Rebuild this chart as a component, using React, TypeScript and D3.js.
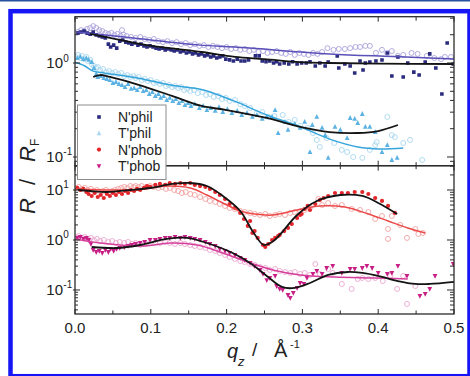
import React from 'react';
import * as d3 from 'd3';

type Pt = [number, number];

// ---------- data: q (1/Å) and R/RF ----------
const qTicks = [0, 0.1, 0.2, 0.3, 0.4, 0.5];
const qTickLabels = ['0.0', '0.1', '0.2', '0.3', '0.4', '0.5'];
const legendLabels = ["N'phil", "T'phil", "N'phob", "T'phob"];

// N'phil (filled squares) and fit
const nPhilData: Pt[] = [
  [0.004, 2.09], [0.008, 2.14], [0.012, 2.19], [0.016, 2.08], [0.020, 2.03], [0.024, 2.14], [0.028, 1.99],
  [0.032, 1.94], [0.036, 1.89], [0.040, 1.85], [0.044, 1.59], [0.047, 1.48], [0.051, 1.55], [0.055, 1.44],
  [0.059, 1.71], [0.063, 1.76], [0.067, 1.67], [0.071, 1.63], [0.075, 1.59], [0.079, 1.63], [0.083, 1.55],
  [0.087, 1.59], [0.091, 1.52], [0.095, 1.48], [0.099, 1.52], [0.103, 1.48], [0.107, 1.44], [0.111, 1.41],
  [0.115, 1.44], [0.119, 1.38], [0.123, 1.41], [0.127, 1.38], [0.131, 1.34], [0.135, 1.38], [0.139, 1.31],
  [0.143, 1.34], [0.147, 1.28], [0.151, 1.31], [0.155, 1.25], [0.159, 1.28], [0.163, 1.22], [0.167, 1.25],
  [0.171, 1.19], [0.175, 1.22], [0.179, 1.16], [0.183, 1.19], [0.187, 1.13], [0.191, 1.16], [0.195, 1.19],
  [0.199, 1.10], [0.204, 1.08], [0.209, 1.05], [0.214, 1.10], [0.219, 1.05], [0.224, 1.05], [0.229, 1.08],
  [0.238, 1.19], [0.243, 1.19], [0.247, 1.05], [0.252, 1.03], [0.257, 1.05], [0.262, 1.0], [0.266, 1.03],
  [0.270, 0.976], [0.276, 1.0], [0.282, 0.976], [0.287, 1.03], [0.293, 0.976], [0.299, 1.0], [0.305, 1.0],
  [0.310, 1.03], [0.317, 0.929], [0.323, 1.0], [0.330, 0.929], [0.334, 1.025], [0.346, 1.19], [0.348, 0.885],
  [0.356, 0.976], [0.363, 0.929], [0.369, 0.783], [0.376, 1.05], [0.380, 0.843], [0.383, 1.0], [0.389, 1.025],
  [0.397, 1.05], [0.405, 1.076], [0.412, 1.28], [0.418, 0.727], [0.426, 1.16], [0.433, 0.71], [0.439, 1.0],
  [0.447, 0.80], [0.454, 0.745], [0.462, 1.025], [0.468, 1.25], [0.476, 0.885], [0.484, 0.468], [0.491, 1.63],
  [0.499, 0.976],
];
const nPhilFit: Pt[] = [
  [0.02, 2.04], [0.046, 1.85], [0.085, 1.6], [0.125, 1.44], [0.167, 1.31], [0.211, 1.16], [0.25, 1.10],
  [0.297, 1.02], [0.336, 1.0], [0.4, 0.985], [0.5, 0.976],
];

// N'phil reference (open circles) and fit
const nPhilOpen: Pt[] = [
  [0.004, 2.14], [0.008, 2.24], [0.012, 2.19], [0.016, 2.30], [0.020, 2.36], [0.024, 2.47], [0.028, 2.36],
  [0.032, 2.24], [0.036, 2.19], [0.040, 2.09], [0.044, 2.04], [0.048, 2.09], [0.052, 1.99], [0.056, 2.04],
  [0.060, 1.94], [0.062, 2.24], [0.064, 2.0], [0.068, 1.94], [0.074, 1.89], [0.080, 1.85], [0.086, 1.89],
  [0.092, 1.80], [0.098, 1.76], [0.104, 1.80], [0.110, 1.71], [0.116, 1.67], [0.122, 1.71], [0.128, 1.63],
  [0.134, 1.67], [0.140, 1.59], [0.146, 1.63], [0.152, 1.55], [0.158, 1.59], [0.164, 1.52], [0.170, 1.55],
  [0.176, 1.48], [0.182, 1.52], [0.188, 1.48], [0.194, 1.44], [0.200, 1.48], [0.206, 1.41], [0.212, 1.44],
  [0.218, 1.38], [0.224, 1.41], [0.230, 1.34], [0.236, 1.38], [0.242, 1.31], [0.248, 1.34], [0.254, 1.28],
  [0.260, 1.31], [0.266, 1.34], [0.272, 1.28], [0.278, 1.25], [0.284, 1.31], [0.290, 1.22], [0.296, 1.28],
  [0.302, 1.25], [0.308, 1.22], [0.314, 1.28], [0.320, 1.25], [0.326, 1.31], [0.333, 1.44], [0.341, 1.38],
  [0.348, 1.41], [0.356, 1.41], [0.363, 1.44], [0.370, 1.48], [0.376, 1.48], [0.383, 1.52], [0.389, 1.52],
  [0.397, 1.28], [0.405, 1.38], [0.412, 1.28], [0.418, 1.34], [0.426, 1.19], [0.433, 1.22], [0.444, 1.28],
  [0.452, 1.25], [0.464, 1.19], [0.474, 1.13], [0.483, 1.10], [0.488, 1.16], [0.496, 1.16],
];
const nPhilOpenFit: Pt[] = [
  [0.003, 2.14], [0.08, 1.83], [0.165, 1.55], [0.211, 1.48], [0.336, 1.25], [0.42, 1.17], [0.5, 1.10],
];

// T'phil (filled triangles) and fit
const tPhilData: Pt[] = [
  [0.003, 1.13], [0.007, 1.16], [0.011, 1.10], [0.015, 1.13], [0.018, 1.08], [0.022, 1.02], [0.025, 0.885],
  [0.028, 0.764], [0.030, 0.71], [0.034, 0.727], [0.038, 0.692], [0.042, 0.676], [0.046, 0.659], [0.050, 0.613],
  [0.054, 0.628], [0.058, 0.598], [0.062, 0.583], [0.066, 0.555], [0.070, 0.598], [0.074, 0.530], [0.078, 0.542],
  [0.082, 0.516], [0.086, 0.555], [0.090, 0.503], [0.094, 0.516], [0.098, 0.468], [0.102, 0.491], [0.106, 0.446],
  [0.110, 0.468], [0.113, 0.425], [0.117, 0.446], [0.121, 0.404], [0.125, 0.425], [0.129, 0.394], [0.133, 0.414],
  [0.137, 0.375], [0.141, 0.394], [0.145, 0.357], [0.149, 0.375], [0.153, 0.349], [0.158, 0.366], [0.164, 0.332],
  [0.169, 0.349], [0.174, 0.316], [0.179, 0.332], [0.185, 0.309], [0.190, 0.340], [0.195, 0.301], [0.201, 0.324],
  [0.207, 0.294], [0.214, 0.309], [0.220, 0.280], [0.227, 0.294], [0.234, 0.267], [0.240, 0.280], [0.247, 0.254],
  [0.253, 0.267], [0.260, 0.267], [0.264, 0.316], [0.268, 0.180], [0.277, 0.236], [0.281, 0.194], [0.290, 0.225],
  [0.297, 0.204], [0.303, 0.236], [0.310, 0.113], [0.313, 0.219], [0.319, 0.267], [0.326, 0.204], [0.330, 0.171],
  [0.334, 0.098], [0.343, 0.209], [0.350, 0.194], [0.359, 0.159], [0.363, 0.260], [0.369, 0.254], [0.373, 0.230],
  [0.379, 0.287], [0.383, 0.209], [0.389, 0.209], [0.396, 0.184], [0.405, 0.113], [0.412, 0.134], [0.418, 0.093],
  [0.425, 0.098],
];
const tPhilFit: Pt[] = [
  [0.024, 0.71], [0.033, 0.745], [0.046, 0.71], [0.085, 0.583], [0.128, 0.446], [0.167, 0.349], [0.200, 0.316],
  [0.253, 0.26], [0.297, 0.209], [0.336, 0.184], [0.373, 0.18], [0.400, 0.189], [0.426, 0.219],
];

// T'phil reference (open circles) and fit
const tPhilOpen: Pt[] = [
  [0.001, 1.16], [0.004, 1.22], [0.007, 1.13], [0.009, 1.19], [0.012, 1.10], [0.015, 1.16], [0.017, 1.05],
  [0.020, 1.08], [0.022, 0.976], [0.025, 0.929], [0.028, 0.885], [0.030, 0.907], [0.033, 0.843], [0.037, 0.863],
  [0.041, 0.802], [0.045, 0.822], [0.049, 0.783], [0.053, 0.802], [0.057, 0.764], [0.061, 0.783], [0.065, 0.727],
  [0.069, 0.745], [0.073, 0.710], [0.077, 0.727], [0.080, 0.692], [0.084, 0.710], [0.088, 0.659], [0.092, 0.676],
  [0.096, 0.643], [0.100, 0.659], [0.104, 0.613], [0.108, 0.628], [0.112, 0.598], [0.116, 0.613], [0.120, 0.569],
  [0.124, 0.583], [0.128, 0.555], [0.132, 0.569], [0.136, 0.542], [0.140, 0.555], [0.144, 0.516], [0.148, 0.529],
  [0.152, 0.503], [0.157, 0.516], [0.162, 0.479], [0.168, 0.491], [0.173, 0.457], [0.178, 0.468], [0.183, 0.435],
  [0.189, 0.446], [0.194, 0.414], [0.199, 0.425], [0.204, 0.394], [0.211, 0.404], [0.218, 0.366], [0.224, 0.349],
  [0.231, 0.332], [0.240, 0.294], [0.247, 0.301], [0.255, 0.267], [0.263, 0.273], [0.274, 0.280], [0.282, 0.236],
  [0.290, 0.248], [0.297, 0.214], [0.307, 0.204], [0.314, 0.180], [0.319, 0.152], [0.323, 0.128], [0.332, 0.159],
  [0.342, 0.141], [0.352, 0.119], [0.359, 0.113], [0.367, 0.100], [0.379, 0.098], [0.389, 0.119], [0.396, 0.134],
  [0.398, 0.144], [0.412, 0.267], [0.418, 0.171], [0.422, 0.163], [0.433, 0.141], [0.442, 0.152], [0.458, 0.093],
];
const tPhilOpenFit: Pt[] = [
  [0.0, 1.02], [0.013, 0.93], [0.024, 0.82], [0.040, 0.78], [0.084, 0.69], [0.128, 0.58], [0.168, 0.52],
  [0.208, 0.40], [0.253, 0.28], [0.297, 0.21], [0.336, 0.155], [0.373, 0.128], [0.402, 0.122], [0.433, 0.125],
];

// N'phob (filled circles) and fit
const nPhobData: Pt[] = [
  [0.003, 11.0], [0.007, 10.0], [0.011, 10.5], [0.015, 9.12], [0.018, 8.32], [0.022, 7.59], [0.026, 8.71],
  [0.030, 7.24], [0.034, 7.94], [0.038, 6.92], [0.042, 8.32], [0.046, 7.59], [0.050, 8.71], [0.054, 7.94],
  [0.058, 9.12], [0.062, 8.32], [0.066, 9.55], [0.070, 8.71], [0.074, 10.0], [0.078, 9.55], [0.082, 10.5],
  [0.086, 10.0], [0.091, 11.0], [0.095, 12.0], [0.099, 11.5], [0.106, 12.6], [0.112, 13.2], [0.119, 12.6],
  [0.125, 13.8], [0.132, 13.2], [0.139, 13.8], [0.145, 13.2], [0.152, 13.8], [0.158, 12.6], [0.165, 12.0],
  [0.172, 11.5], [0.178, 10.5], [0.185, 9.12], [0.191, 7.94], [0.198, 6.61], [0.204, 5.25], [0.211, 4.37],
  [0.218, 3.47], [0.223, 2.63], [0.228, 1.91], [0.231, 2.40], [0.234, 1.38], [0.237, 1.51], [0.241, 1.10],
  [0.248, 0.794], [0.251, 0.724], [0.255, 0.832], [0.260, 1.0], [0.264, 1.10], [0.268, 1.20], [0.270, 1.26],
  [0.276, 1.51], [0.281, 1.74], [0.286, 2.09], [0.293, 2.75], [0.297, 3.16], [0.299, 3.31], [0.303, 4.17],
  [0.307, 4.79], [0.310, 3.98], [0.317, 5.25], [0.323, 6.31], [0.328, 6.92], [0.334, 7.59], [0.343, 8.71],
  [0.352, 8.71], [0.360, 8.71], [0.369, 9.12], [0.379, 9.12], [0.387, 8.32], [0.396, 6.92], [0.405, 6.03],
  [0.413, 4.79], [0.422, 3.47],
];
const nPhobFit: Pt[] = [
  [0.004, 10.0], [0.020, 9.55], [0.042, 9.12], [0.073, 10.0], [0.099, 10.96], [0.129, 13.2], [0.152, 13.8],
  [0.174, 12.0], [0.195, 7.59], [0.218, 3.80], [0.235, 1.45], [0.249, 0.794], [0.260, 0.912], [0.270, 1.26],
  [0.293, 3.16], [0.319, 6.03], [0.350, 7.94], [0.379, 7.59], [0.400, 5.50], [0.425, 3.31],
];

// N'phob reference (open circles) and fit
const nPhobOpen: Pt[] = [
  [0.001, 10.96], [0.005, 11.5], [0.009, 10.5], [0.013, 10.96], [0.017, 10.0], [0.021, 10.5], [0.025, 9.55],
  [0.029, 10.0], [0.033, 9.12], [0.037, 9.55], [0.041, 10.0], [0.045, 9.12], [0.049, 9.55], [0.053, 10.0],
  [0.057, 10.5], [0.061, 10.96], [0.065, 11.5], [0.069, 10.96], [0.073, 12.0], [0.077, 11.5], [0.080, 12.0],
  [0.084, 11.5], [0.088, 12.0], [0.094, 11.5], [0.099, 12.0], [0.104, 11.5], [0.110, 10.96], [0.115, 11.5],
  [0.120, 10.5], [0.125, 10.96], [0.131, 10.0], [0.136, 9.55], [0.141, 8.71], [0.146, 9.12], [0.152, 8.32],
  [0.158, 7.94], [0.165, 7.24], [0.172, 6.61], [0.178, 6.03], [0.185, 5.75], [0.191, 5.25], [0.198, 4.79],
  [0.204, 4.37], [0.211, 4.17], [0.218, 3.80], [0.224, 3.63], [0.231, 3.47], [0.237, 3.31], [0.244, 3.16],
  [0.251, 3.31], [0.257, 3.02], [0.264, 3.16], [0.270, 3.31], [0.277, 3.16], [0.284, 3.47], [0.290, 3.63],
  [0.297, 3.80], [0.303, 3.98], [0.310, 4.37], [0.321, 6.61], [0.326, 5.01], [0.334, 5.50], [0.343, 4.79],
  [0.352, 5.01], [0.365, 4.17], [0.376, 3.98], [0.387, 3.63], [0.396, 2.63], [0.405, 3.02], [0.413, 1.66],
  [0.418, 3.02], [0.413, 1.05], [0.429, 2.0], [0.438, 1.10], [0.449, 1.66], [0.453, 1.32], [0.459, 1.38],
];
const nPhobOpenFit: Pt[] = [
  [0.0, 10.5], [0.046, 10.0], [0.086, 10.2], [0.121, 12.0], [0.152, 10.96], [0.174, 7.94], [0.195, 5.50],
  [0.218, 3.80], [0.237, 3.31], [0.261, 3.16], [0.293, 3.98], [0.323, 4.79], [0.356, 4.57], [0.387, 3.31],
  [0.413, 2.40], [0.439, 1.74], [0.462, 1.38],
];

// T'phob (filled inverted triangles) and fit
const tPhobData: Pt[] = [
  [0.003, 1.10], [0.007, 1.15], [0.011, 1.05], [0.015, 1.10], [0.018, 1.0], [0.021, 0.832], [0.024, 0.631],
  [0.028, 0.575], [0.032, 0.603], [0.036, 0.550], [0.040, 0.631], [0.044, 0.575], [0.047, 0.661], [0.051, 0.603],
  [0.055, 0.661], [0.059, 0.692], [0.065, 0.724], [0.070, 0.759], [0.075, 0.794], [0.080, 0.832], [0.086, 0.871],
  [0.092, 0.912], [0.099, 1.0], [0.106, 1.0], [0.112, 1.05], [0.119, 1.10], [0.125, 1.10], [0.132, 1.15],
  [0.139, 1.10], [0.145, 1.15], [0.152, 1.10], [0.158, 1.05], [0.165, 1.0], [0.172, 0.912], [0.178, 0.832],
  [0.185, 0.759], [0.191, 0.661], [0.198, 0.603], [0.204, 0.550], [0.211, 0.501], [0.218, 0.437], [0.224, 0.398],
  [0.231, 0.347], [0.237, 0.302], [0.244, 0.251], [0.248, 0.209], [0.253, 0.158], [0.257, 0.174], [0.264, 0.191],
  [0.266, 0.120], [0.270, 0.105], [0.274, 0.100], [0.281, 0.0794], [0.284, 0.0692], [0.288, 0.0871], [0.293, 0.110],
  [0.297, 0.138], [0.302, 0.132], [0.306, 0.174], [0.314, 0.209], [0.319, 0.240], [0.326, 0.209], [0.332, 0.275],
  [0.340, 0.302], [0.352, 0.219], [0.363, 0.263], [0.369, 0.263], [0.379, 0.275], [0.385, 0.302], [0.392, 0.275],
  [0.400, 0.219], [0.412, 0.209], [0.418, 0.219], [0.426, 0.302], [0.438, 0.191], [0.455, 0.0759], [0.462, 0.0832],
  [0.468, 0.105], [0.475, 0.191], [0.499, 0.331],
];
const tPhobFit: Pt[] = [
  [0.022, 0.724], [0.055, 0.692], [0.086, 0.794], [0.121, 1.05], [0.148, 1.10], [0.174, 0.871], [0.208, 0.550],
  [0.231, 0.347], [0.253, 0.191], [0.273, 0.115], [0.290, 0.110], [0.310, 0.138], [0.334, 0.20], [0.360, 0.229],
  [0.379, 0.219], [0.400, 0.191], [0.426, 0.151], [0.449, 0.132], [0.468, 0.132], [0.5, 0.145],
];

// T'phob reference (open circles) and fit
const tPhobOpen: Pt[] = [
  [0.001, 1.15], [0.005, 1.20], [0.009, 1.10], [0.013, 1.15], [0.017, 1.05], [0.021, 1.10], [0.025, 1.0],
  [0.029, 1.05], [0.033, 0.955], [0.038, 1.0], [0.044, 0.912], [0.049, 0.955], [0.054, 0.871], [0.059, 0.912],
  [0.065, 0.871], [0.070, 0.912], [0.075, 0.832], [0.080, 0.871], [0.086, 0.794], [0.092, 0.832], [0.099, 0.871],
  [0.106, 0.912], [0.112, 0.871], [0.119, 0.912], [0.125, 0.871], [0.132, 0.832], [0.139, 0.871], [0.145, 0.832],
  [0.152, 0.794], [0.158, 0.759], [0.165, 0.724], [0.172, 0.692], [0.178, 0.631], [0.185, 0.603], [0.191, 0.550],
  [0.198, 0.501], [0.204, 0.457], [0.211, 0.417], [0.218, 0.380], [0.224, 0.363], [0.231, 0.331], [0.237, 0.316],
  [0.244, 0.288], [0.251, 0.275], [0.257, 0.251], [0.264, 0.263], [0.270, 0.240], [0.277, 0.229], [0.284, 0.219],
  [0.290, 0.229], [0.297, 0.209], [0.303, 0.219], [0.310, 0.20], [0.317, 0.331], [0.323, 0.209], [0.334, 0.263],
  [0.340, 0.219], [0.352, 0.132], [0.365, 0.105], [0.373, 0.166], [0.379, 0.174], [0.387, 0.166], [0.396, 0.174],
  [0.406, 0.151], [0.416, 0.191], [0.425, 0.105], [0.433, 0.191], [0.438, 0.0525], [0.449, 0.120],
];
const tPhobOpenFit: Pt[] = [
  [0.0, 1.05], [0.033, 0.871], [0.086, 0.759], [0.129, 0.871], [0.161, 0.794], [0.195, 0.550], [0.231, 0.347],
  [0.261, 0.251], [0.297, 0.20], [0.343, 0.182], [0.396, 0.174], [0.439, 0.166],
];

// ---------- layout ----------
const W = 470;
const H = 376;
const X0 = 75;
const X1 = 454;
const TOP = 16.7;
const MID = 165.7;
const BOT = 314;

const x = d3.scaleLinear().domain([0, 0.5]).range([X0, X1]);
const yUp = d3.scaleLog().domain([0.0808, 3.11]).range([MID, TOP]);
const yLo = d3.scaleLog().domain([0.0331, 30.6]).range([BOT, MID]);

const FONT = 'Liberation Sans, Arial, sans-serif';
const AXIS = '#2b2b2b';

const C = {
  nPhil: '#2a2a7e',
  nPhilOpen: '#aaa3dc',
  nPhilLine: '#5a50b8',
  tPhil: '#5cb3e3',
  tPhilOpen: '#a9d7ef',
  tPhilLine: '#36a5dc',
  nPhob: '#e3262b',
  nPhobOpen: '#f0a3a1',
  nPhobLine: '#ec4a4a',
  tPhob: '#c81f86',
  tPhobOpen: '#eaa7cf',
  tPhobLine: '#d5409b',
  fit: '#141414',
};

const lineGen = (y: d3.ScaleLogarithmic<number, number>) =>
  d3
    .line<Pt>()
    .x((d) => x(d[0]))
    .y((d) => y(d[1]))
    .curve(d3.curveCatmullRom.alpha(0.5));

function logTicks(domain: number[]) {
  const out: { v: number; major: boolean }[] = [];
  for (let e = -3; e <= 2; e++) {
    for (let k = 1; k <= 9; k++) {
      const v = k * Math.pow(10, e);
      if (v >= domain[0] && v <= domain[1]) out.push({ v, major: k === 1 });
    }
  }
  return out;
}

const square = (cx: number, cy: number, s: number) =>
  `M${cx - s / 2},${cy - s / 2}h${s}v${s}h${-s}Z`;
const triUp = (cx: number, cy: number, s: number) =>
  `M${cx},${cy - s * 0.6}L${cx + s / 2},${cy + s * 0.4}L${cx - s / 2},${cy + s * 0.4}Z`;
const triDown = (cx: number, cy: number, s: number) =>
  `M${cx},${cy + s * 0.6}L${cx + s / 2},${cy - s * 0.4}L${cx - s / 2},${cy - s * 0.4}Z`;

function OpenCircles({ data, y, color }: { data: Pt[]; y: any; color: string }) {
  return (
    <g fill="none" stroke={color} strokeWidth={0.9}>
      {data.map((d, i) => (
        <circle key={i} cx={x(d[0])} cy={y(d[1])} r={2.5} />
      ))}
    </g>
  );
}

function Filled({ data, y, color, shape }: { data: Pt[]; y: any; color: string; shape: string }) {
  return (
    <g fill={color}>
      {data.map((d, i) => {
        const cx = x(d[0]);
        const cy = y(d[1]);
        if (shape === 'circle') return <circle key={i} cx={cx} cy={cy} r={2.1} />;
        const p = shape === 'square' ? square(cx, cy, 3.6) : shape === 'up' ? triUp(cx, cy, 4.8) : triDown(cx, cy, 4.8);
        return <path key={i} d={p} />;
      })}
    </g>
  );
}

function Fit({ data, y, color, width }: { data: Pt[]; y: any; color: string; width: number }) {
  return <path d={lineGen(y)(data) || ''} fill="none" stroke={color} strokeWidth={width} strokeLinejoin="round" />;
}

function YLabels({ y, exps }: { y: any; exps: number[] }) {
  return (
    <g fontFamily={FONT} fill="#222">
      {exps.map((e) => {
        const yy = y(Math.pow(10, e));
        return (
          <g key={e}>
            <text x={63} y={yy + 5} fontSize={15} textAnchor="end">10</text>
            <text x={63.3} y={yy - 1.5} fontSize={10}>{e < 0 ? '-' + Math.abs(e) : String(e)}</text>
          </g>
        );
      })}
    </g>
  );
}

function YTicks({ y, domain }: { y: any; domain: number[] }) {
  return (
    <g stroke={AXIS} strokeWidth={1}>
      {logTicks(domain).map((t, i) => {
        const yy = y(t.v);
        return (
          <g key={i}>
            <line x1={t.major ? X0 - 2 : X0} x2={X0 + (t.major ? 5 : 3)} y1={yy} y2={yy} />
            <line x1={X1} x2={X1 - (t.major ? 7 : 4)} y1={yy} y2={yy} />
          </g>
        );
      })}
    </g>
  );
}

export default function App() {
  const xMinor = d3.range(0.05, 0.5, 0.1);
  const legendY = [117, 133.3, 149.6, 166];
  return (
    <svg
      width={W}
      height={H}
      viewBox={`0 0 ${W} ${H}`}
      style={{ position: 'absolute', left: 0, top: 0, background: '#fff' }}
    >
      <defs>
        <clipPath id="clipUp">
          <rect x={X0} y={TOP} width={X1 - X0} height={MID - TOP} />
        </clipPath>
        <clipPath id="clipLo">
          <rect x={X0} y={MID} width={X1 - X0} height={BOT - MID} />
        </clipPath>
      </defs>
      <rect x={0} y={0} width={W} height={H} fill="#fff" />

      {/* upper panel: hydrophilic */}
      <g clipPath="url(#clipUp)">
        <OpenCircles data={tPhilOpen} y={yUp} color={C.tPhilOpen} />
        <OpenCircles data={nPhilOpen} y={yUp} color={C.nPhilOpen} />
        <Filled data={tPhilData} y={yUp} color={C.tPhil} shape="up" />
        <Filled data={nPhilData} y={yUp} color={C.nPhil} shape="square" />
        <Fit data={tPhilOpenFit} y={yUp} color={C.tPhilLine} width={1.5} />
        <Fit data={nPhilOpenFit} y={yUp} color={C.nPhilLine} width={1.5} />
        <Fit data={tPhilFit} y={yUp} color={C.fit} width={1.8} />
        <Fit data={nPhilFit} y={yUp} color={C.fit} width={1.8} />
      </g>

      {/* lower panel: hydrophobic */}
      <g clipPath="url(#clipLo)">
        <OpenCircles data={nPhobOpen} y={yLo} color={C.nPhobOpen} />
        <OpenCircles data={tPhobOpen} y={yLo} color={C.tPhobOpen} />
        <Filled data={nPhobData} y={yLo} color={C.nPhob} shape="circle" />
        <Filled data={tPhobData} y={yLo} color={C.tPhob} shape="down" />
        <Fit data={nPhobOpenFit} y={yLo} color={C.nPhobLine} width={1.5} />
        <Fit data={tPhobOpenFit} y={yLo} color={C.tPhobLine} width={1.5} />
        <Fit data={nPhobFit} y={yLo} color={C.fit} width={1.8} />
        <Fit data={tPhobFit} y={yLo} color={C.fit} width={1.8} />
      </g>

      {/* panel frames */}
      <g fill="none" stroke={AXIS} strokeWidth={1.3}>
        <rect x={X0} y={TOP} width={X1 - X0} height={MID - TOP} />
        <rect x={X0} y={MID} width={X1 - X0} height={BOT - MID} />
      </g>

      {/* x ticks */}
      <g stroke={AXIS} strokeWidth={1}>
        {qTicks.map((q) => (
          <g key={'M' + q}>
            <line x1={x(q)} x2={x(q)} y1={TOP} y2={TOP + 5} />
            <line x1={x(q)} x2={x(q)} y1={MID - 5} y2={MID + 5} />
            <line x1={x(q)} x2={x(q)} y1={BOT} y2={BOT - 5} />
          </g>
        ))}
        {xMinor.map((q) => (
          <g key={'m' + q}>
            <line x1={x(q)} x2={x(q)} y1={TOP} y2={TOP + 4} />
            <line x1={x(q)} x2={x(q)} y1={MID - 3.5} y2={MID + 3.5} />
            <line x1={x(q)} x2={x(q)} y1={BOT} y2={BOT - 3.5} />
          </g>
        ))}
      </g>
      <YTicks y={yUp} domain={[0.0808, 3.11]} />
      <YTicks y={yLo} domain={[0.0331, 30.6]} />

      {/* tick labels */}
      <g fontFamily={FONT} fontSize={15} fill="#222" textAnchor="middle">
        {qTicks.map((q, i) => (
          <text key={q} x={x(q)} y={333}>{qTickLabels[i]}</text>
        ))}
      </g>
      <YLabels y={yUp} exps={[0, -1]} />
      <YLabels y={yLo} exps={[1, 0, -1]} />

      {/* axis titles */}
      <g fontFamily={FONT} fill="#222">
        <text x={227} y={358} fontSize={20} fontStyle="italic">q</text>
        <text x={238} y={366} fontSize={13} fontStyle="italic">z</text>
        <text x={252} y={356} fontSize={19}>/</text>
        <text x={274} y={357} fontSize={20}>Å</text>
        <text x={290} y={348} fontSize={11}>-1</text>
      </g>
      <g fontFamily={FONT} fill="#222" transform="translate(35,0) rotate(-90)">
        <text x={-214} y={0} fontSize={22} fontStyle="italic">R</text>
        <text x={-185} y={0} fontSize={22}>/</text>
        <text x={-162} y={0} fontSize={22} fontStyle="italic">R</text>
        <text x={-146} y={4} fontSize={12}>F</text>
      </g>

      {/* legend */}
      <g>
        <rect x={77.5} y={105} width={88.5} height={74.5} fill="#fff" stroke="#8c8c8c" strokeWidth={1} />
        <path d={square(99, legendY[0], 3.6)} fill={C.nPhil} />
        <path d={triUp(99, legendY[1], 4.6)} fill={C.tPhilOpen} />
        <circle cx={99} cy={legendY[2]} r={2.1} fill={C.nPhob} />
        <path d={triDown(99, legendY[3], 4.6)} fill={C.tPhob} />
        <g fontFamily={FONT} fontSize={14} fill="#222">
          {legendLabels.map((l, i) => (
            <text key={l} x={118} y={legendY[i] + 5}>{l}</text>
          ))}
        </g>
      </g>

      {/* outer frame */}
      <rect x={0} y={0} width={W} height={1.5} fill="#2653a0" />
      <rect x={10.5} y={11.2} width={459} height={365} fill="none" stroke="#1515f5" strokeWidth={4.5} />
    </svg>
  );
}
